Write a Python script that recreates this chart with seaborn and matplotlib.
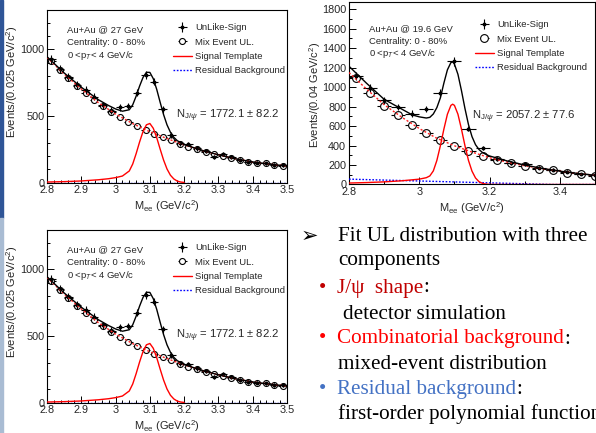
import numpy as np
import pandas as pd
import seaborn as sns
import matplotlib.pyplot as plt
from matplotlib.lines import Line2D
from matplotlib.patches import Rectangle
from matplotlib.ticker import MultipleLocator

# ---------------- Au+Au @ 27 GeV, 0.025 GeV/c^2 bins ----------------
mass_27 = [2.8125, 2.8375, 2.8625, 2.8875, 2.9125, 2.9375, 2.9625, 2.9875,
           3.0125, 3.0375, 3.0625, 3.0875, 3.1125, 3.1375, 3.1625, 3.1875,
           3.2125, 3.2375, 3.2625, 3.2875, 3.3125, 3.3375, 3.3625, 3.3875,
           3.4125, 3.4375, 3.4625, 3.4875]
ul_27 = [925, 850, 790, 732, 695, 645, 580, 540, 565, 575, 675, 808, 758, 550,
         358, 295, 290, 258, 240, 190, 215, 195, 170, 155, 150, 145, 132, 132]
ul_err_27 = [32, 30, 29, 28, 27, 26, 25, 24, 24, 25, 27, 30, 29, 25,
             20, 18, 18, 17, 16, 15, 15, 14, 14, 13, 13, 12, 12, 12]
mix_27 = [915, 845, 783, 725, 675, 620, 575, 533, 490, 458, 425, 395, 362, 345,
          320, 290, 270, 250, 232, 215, 200, 185, 170, 158, 150, 145, 135, 128]

comb_x_27 = [2.80, 2.85, 2.90, 2.95, 3.00, 3.05, 3.10, 3.15, 3.20, 3.25, 3.30,
             3.35, 3.40, 3.45, 3.50]
comb_27 = [940, 815, 703, 600, 515, 443, 382, 331, 284, 244, 209, 179, 156, 139, 125]

sig_x_27 = [2.80, 2.85, 2.90, 2.95, 2.98, 3.00, 3.02, 3.04, 3.05, 3.06, 3.07,
            3.08, 3.09, 3.10, 3.11, 3.12, 3.13, 3.14, 3.15, 3.16, 3.17, 3.18,
            3.19, 3.20]
sig_27 = [5, 8, 13, 22, 30, 38, 50, 88, 140, 218, 305, 383, 434, 444, 408, 338,
          252, 170, 103, 56, 28, 12, 5, 2]

tot_x_27 = [2.80, 2.85, 2.90, 2.95, 2.98, 3.00, 3.02, 3.04, 3.05, 3.06, 3.07,
            3.08, 3.09, 3.10, 3.11, 3.12, 3.13, 3.14, 3.15, 3.16, 3.17, 3.18,
            3.20, 3.25, 3.30, 3.35, 3.40, 3.45, 3.50]
tot_27 = [945, 823, 716, 622, 578, 553, 536, 547, 584, 649, 724, 789, 828, 827,
          780, 700, 603, 511, 434, 378, 340, 315, 286, 244, 209, 179, 156, 139, 125]

res_x_27 = [2.80, 3.50]
res_27 = [0, 0]

# ---------------- Au+Au @ 19.6 GeV, 0.04 GeV/c^2 bins ----------------
mass_19 = [2.82, 2.86, 2.90, 2.94, 2.98, 3.02, 3.06, 3.10, 3.14, 3.18, 3.22,
           3.26, 3.30, 3.34, 3.38, 3.42, 3.46, 3.50]
ul_19 = [1112, 992, 866, 797, 729, 777, 941, 1266, 575, 376, 263, 222, 209, 171,
         154, 130, 106, 96]
ul_err_19 = [40, 38, 36, 34, 33, 34, 38, 45, 30, 24, 20, 18, 18, 16, 15, 14, 13, 12]
mix_19 = [1099, 941, 811, 712, 613, 530, 455, 394, 342, 294, 250, 222, 188, 164,
          147, 123, 106, 86]

comb_x_19 = [2.80, 2.85, 2.90, 2.95, 3.00, 3.05, 3.10, 3.15, 3.20, 3.25, 3.30,
             3.35, 3.40, 3.45, 3.50]
comb_19 = [1150, 980, 820, 692, 575, 475, 398, 333, 275, 230, 193, 162, 137, 114, 95]

sig_x_19 = [2.80, 2.85, 2.90, 2.95, 3.00, 3.02, 3.03, 3.04, 3.05, 3.06, 3.07,
            3.08, 3.09, 3.095, 3.10, 3.11, 3.12, 3.13, 3.14, 3.15, 3.16, 3.17,
            3.18, 3.19, 3.20, 3.25, 3.50]
sig_19 = [15, 20, 27, 38, 55, 70, 88, 140, 247, 398, 569, 722, 813, 825, 813, 722,
          569, 398, 247, 137, 67, 29, 11, 4, 1, 0, 0]

tot_x_19 = [2.80, 2.85, 2.90, 2.95, 2.98, 3.00, 3.02, 3.03, 3.04, 3.05, 3.06,
            3.07, 3.08, 3.09, 3.095, 3.10, 3.11, 3.12, 3.13, 3.14, 3.15, 3.16,
            3.17, 3.18, 3.19, 3.20, 3.25, 3.30, 3.35, 3.40, 3.45, 3.50]
tot_19 = [1215, 1040, 875, 775, 715, 695, 683, 690, 725, 790, 890, 1042, 1178,
          1253, 1260, 1237, 1132, 965, 780, 615, 492, 409, 359, 328, 309, 293,
          242, 200, 165, 137, 114, 95]

res_x_19 = [2.80, 3.00, 3.20, 3.38, 3.50]
res_19 = [55, 36, 17, 0, 0]

legend_labels = ['UnLike-Sign', 'Mix Event UL.', 'Signal Template', 'Residual Background']

W, H = 596, 433


def px_rect(left, top, right, bottom):
    return [left / W, 1 - bottom / H, (right - left) / W, (bottom - top) / H]


def draw_panel(fig, rect, mass, ul, ul_err, mix, half_width, comb_x, comb_y,
               sig_x, sig_y, res_x, res_y, tot_x, tot_y, ymax, xmaj, xmin,
               ymaj, ymin, msize, energy, ylabel, nyield, leg_anchor, info_xy,
               yield_xy, ylabel_xy):
    ax = fig.add_axes(rect)

    mix_h = ax.errorbar(mass, mix, xerr=half_width, fmt='o', ms=msize,
                        mfc='white', mec='black', mew=0.8, color='black',
                        lw=0.8, capsize=0, zorder=2)
    ul_h = ax.errorbar(mass, ul, yerr=ul_err, xerr=half_width, fmt='o', ms=1.8,
                       color='black', lw=0.8, capsize=0, zorder=2.5)

    sns.lineplot(x=res_x, y=res_y, ax=ax, color='#0000ff', lw=1.0,
                 linestyle=(0, (1.2, 1.2)), zorder=3)
    sns.lineplot(x=comb_x, y=comb_y, ax=ax, color='#ff2020', lw=1.0,
                 linestyle=(0, (1.5, 1.5)), zorder=3.2)
    sns.lineplot(x=sig_x, y=sig_y, ax=ax, color='#ff0000', lw=1.0, zorder=3.5)
    sns.lineplot(x=tot_x, y=tot_y, ax=ax, color='black', lw=1.0, zorder=4)

    ax.set_xlim(2.8, 3.5)
    ax.set_ylim(0, ymax)
    ax.xaxis.set_major_locator(MultipleLocator(xmaj))
    ax.xaxis.set_minor_locator(MultipleLocator(xmin))
    ax.yaxis.set_major_locator(MultipleLocator(ymaj))
    ax.yaxis.set_minor_locator(MultipleLocator(ymin))
    ax.xaxis.set_major_formatter(plt.FuncFormatter(lambda v, p: ('%g' % round(v, 2))))
    ax.tick_params(which='both', direction='in', top=False, right=False,
                   labelsize=7.8, pad=2, color='black')
    ax.tick_params(which='major', length=5, width=0.7)
    ax.tick_params(which='minor', length=2.5, width=0.7)
    for s in ax.spines.values():
        s.set_linewidth(0.8)
        s.set_color('black')

    ax.set_xlabel(r'M$_{\mathrm{ee}}$ (GeV/c$^{2}$)', fontsize=8, labelpad=2)
    ax.set_ylabel(ylabel, fontsize=8)
    ax.yaxis.set_label_coords(*ylabel_xy)

    sig_h = Line2D([], [], color='#ff0000', lw=1.0)
    res_h = Line2D([], [], color='#0000ff', lw=1.0, linestyle=(0, (1.2, 1.2)))
    ax.legend([ul_h, mix_h, sig_h, res_h], legend_labels, loc='upper left',
              bbox_to_anchor=leg_anchor, frameon=False, fontsize=6.8,
              handlelength=2.0, handletextpad=0.35, labelspacing=0.55,
              borderpad=0, borderaxespad=0)

    info = ['Au+Au @ %s GeV' % energy, 'Centrality: 0 - 80%',
            r'0 <p$_{T}$< 4 GeV/c']
    for i, t in enumerate(info):
        ax.text(info_xy[0], info_xy[1][i], t, transform=ax.transAxes,
                fontsize=6.8, va='center', ha='left')
    ax.text(yield_xy[0], yield_xy[1], r'N$_{\mathrm{J/}\psi}$ = ' + nyield,
            transform=ax.transAxes, fontsize=8.1, va='center', ha='left')
    return ax


sns.set_style('ticks')
plt.rcParams['font.family'] = ['Liberation Sans', 'DejaVu Sans']
plt.rcParams['mathtext.fontset'] = 'custom'
plt.rcParams['mathtext.rm'] = 'Liberation Sans'
plt.rcParams['mathtext.it'] = 'Liberation Sans:italic'

fig = plt.figure(figsize=(5.96, 4.33), dpi=100)

# top-left: 27 GeV
draw_panel(fig, px_rect(47, 10, 287, 182.7), mass_27, ul_27, ul_err_27, mix_27,
           0.0125, comb_x_27, comb_27, sig_x_27, sig_27, res_x_27, res_27,
           tot_x_27, tot_27, 1295, 0.1, 0.02, 500, 100, 4.3, '27',
           'Events/(0.025 GeV/c$^{2}$)', '1772.1 $\\pm$ 82.2',
           (0.525, 0.922), (0.083, [0.884, 0.81, 0.739]), (0.5375, 0.386),
           (-0.112, 0.585))

# bottom-left: same 27 GeV fit
draw_panel(fig, px_rect(47, 230, 287, 402.7), mass_27, ul_27, ul_err_27, mix_27,
           0.0125, comb_x_27, comb_27, sig_x_27, sig_27, res_x_27, res_27,
           tot_x_27, tot_27, 1295, 0.1, 0.02, 500, 100, 4.3, '27',
           'Events/(0.025 GeV/c$^{2}$)', '1772.1 $\\pm$ 82.2',
           (0.525, 0.922), (0.083, [0.884, 0.81, 0.739]), (0.5375, 0.386),
           (-0.112, 0.585))

# top-right: 19.6 GeV
draw_panel(fig, px_rect(349, 2, 595, 184.5), mass_19, ul_19, ul_err_19, mix_19,
           0.02, comb_x_19, comb_19, sig_x_19, sig_19, res_x_19, res_19,
           tot_x_19, tot_19, 1875, 0.2, 0.1, 200, 100, 5.6, '19.6',
           'Events/(0.04 GeV/c$^{2}$)', '2057.2 $\\pm$ 77.6',
           (0.512, 0.899), (0.081, [0.856, 0.786, 0.719]), (0.499, 0.37),
           (-0.105, 0.49))

# slide edge bar
fig.add_artist(Rectangle((0, 1 - 218 / H), 3 / W, 218 / H,
                         transform=fig.transFigure, color='#2f5597'))
fig.add_artist(Rectangle((0, 0), 3 / W, 1 - 218 / H,
                         transform=fig.transFigure, color='#a9bcd3'))

# bullet text on the slide
serif = ['Liberation Serif', 'DejaVu Serif']
fs = 15.2


def ftext(x, base, s, color='black'):
    return fig.text(x / W, 1 - base / H, s, color=color, fontsize=fs,
                    family=serif, va='baseline', ha='left')


fig.text(301 / W, 1 - 242 / H, '\u27a2', fontsize=15, family=['DejaVu Sans'],
         va='baseline', ha='left', color='black')
ftext(338, 241.5, 'Fit UL distribution with three')
ftext(338, 265.5, 'components')

ftext(319, 292.5, '\u2022', color='#c00000')
t1 = ftext(337, 292.5, 'J/\u03c8  shape', color='#c00000')
ftext(343, 319, 'detector simulation')

ftext(319, 343.5, '\u2022', color='#ff0000')
t2 = ftext(337, 343.5, 'Combinatorial background', color='#ff0000')
ftext(338, 369, 'mixed-event distribution')

ftext(319, 394, '\u2022', color='#4472c4')
t3 = ftext(337, 394, 'Residual background', color='#4472c4')
ftext(338, 419, 'first-order polynomial function')

for t in (t1, t2, t3):
    fig.add_artist(plt.Annotation(':', xy=(1, 0), xycoords=t, va='bottom',
                                  ha='left', fontsize=fs, family=serif,
                                  color='black', annotation_clip=False))

fig.savefig('out.png', dpi=100)
